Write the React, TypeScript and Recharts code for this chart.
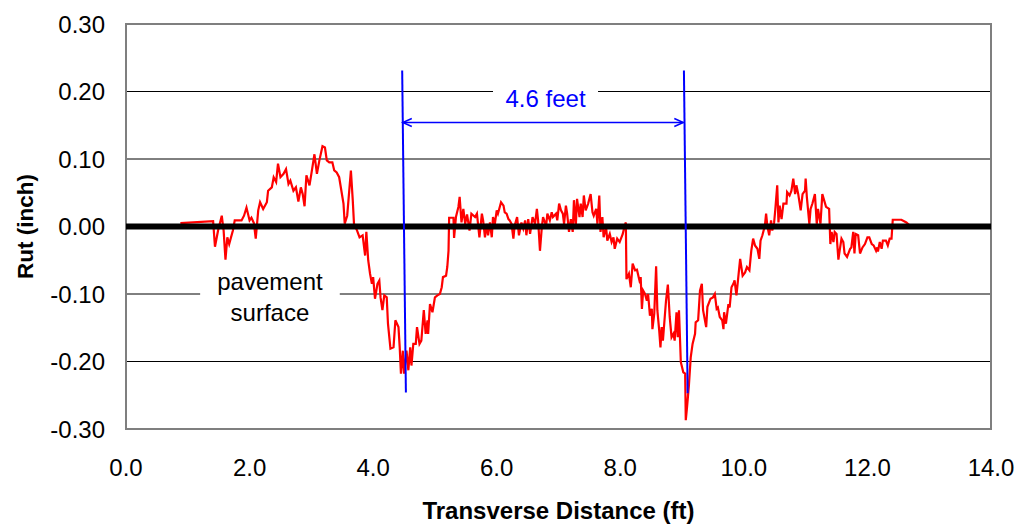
import { LineChart, Line, XAxis, YAxis, CartesianGrid, ReferenceLine, ReferenceArea } from 'recharts';

const FONT = '"Liberation Sans", Arial, Helvetica, sans-serif';

// transverse profile, distance in ft
const distanceFt = [
  0.88, 1.41, 1.44, 1.49, 1.55, 1.58, 1.61, 1.64, 1.67, 1.73, 1.76, 1.87, 1.91, 1.95, 2.0, 2.03, 2.07, 2.1,
  2.14, 2.17, 2.22, 2.28, 2.3, 2.36, 2.39, 2.43, 2.46, 2.5, 2.55, 2.59, 2.63, 2.66, 2.71, 2.75, 2.79, 2.83,
  2.86, 2.89, 2.92, 2.97, 3.0, 3.05, 3.09, 3.13, 3.18, 3.22, 3.25, 3.29, 3.34, 3.37, 3.41, 3.45, 3.52, 3.54,
  3.58, 3.64, 3.67, 3.69, 3.74, 3.78, 3.83, 3.87, 3.89, 3.92, 3.95, 3.98, 4.0, 4.03, 4.07, 4.1, 4.12, 4.15,
  4.18, 4.22, 4.24, 4.28, 4.33, 4.36, 4.41, 4.43, 4.45, 4.48, 4.5, 4.54, 4.57, 4.6, 4.62, 4.65, 4.69, 4.71,
  4.75, 4.78, 4.82, 4.85, 4.88, 4.89, 4.92, 4.96, 5.0, 5.04, 5.08, 5.11, 5.13, 5.18, 5.2, 5.22, 5.23, 5.3,
  5.31, 5.34, 5.38, 5.4, 5.43, 5.46, 5.49, 5.52, 5.56, 5.59, 5.65, 5.68, 5.72, 5.76, 5.78, 5.81, 5.84, 5.86,
  5.89, 5.92, 5.94, 5.97, 6.0, 6.02, 6.07, 6.11, 6.13, 6.16, 6.19, 6.21, 6.24, 6.27, 6.29, 6.33, 6.36, 6.4,
  6.43, 6.46, 6.48, 6.51, 6.54, 6.58, 6.62, 6.65, 6.67, 6.7, 6.73, 6.75, 6.8, 6.82, 6.86, 6.89, 6.91, 6.96,
  6.98, 7.01, 7.04, 7.07, 7.09, 7.12, 7.14, 7.17, 7.2, 7.23, 7.25, 7.28, 7.3, 7.34, 7.36, 7.39, 7.41, 7.44,
  7.48, 7.52, 7.55, 7.57, 7.61, 7.63, 7.66, 7.68, 7.71, 7.73, 7.77, 7.79, 7.83, 7.86, 7.89, 7.91, 7.95, 7.99,
  8.04, 8.07, 8.09, 8.1, 8.14, 8.17, 8.2, 8.24, 8.27, 8.31, 8.33, 8.35, 8.37, 8.4, 8.43, 8.45, 8.48, 8.51,
  8.52, 8.55, 8.58, 8.6, 8.63, 8.65, 8.67, 8.69, 8.74, 8.77, 8.8, 8.83, 8.86, 8.88, 8.91, 8.93, 8.95, 8.98,
  9.02, 9.05, 9.06, 9.08, 9.11, 9.14, 9.17, 9.21, 9.22, 9.26, 9.29, 9.32, 9.34, 9.39, 9.41, 9.46, 9.5, 9.53,
  9.56, 9.58, 9.61, 9.65, 9.67, 9.68, 9.71, 9.75, 9.77, 9.8, 9.83, 9.85, 9.88, 9.91, 9.94, 9.98, 10.02, 10.05,
  10.09, 10.12, 10.15, 10.18, 10.22, 10.25, 10.27, 10.3, 10.34, 10.36, 10.38, 10.41, 10.44, 10.46, 10.49,
  10.51, 10.54, 10.56, 10.58, 10.61, 10.64, 10.69, 10.7, 10.74, 10.77, 10.8, 10.83, 10.85, 10.88, 10.92,
  10.95, 10.99, 11.0, 11.02, 11.06, 11.08, 11.11, 11.15, 11.18, 11.2, 11.24, 11.27, 11.33, 11.38, 11.4,
  11.42, 11.45, 11.47, 11.5, 11.53, 11.55, 11.58, 11.61, 11.63, 11.67, 11.72, 11.74, 11.77, 11.79, 11.81,
  11.85, 11.88, 11.92, 11.96, 12.0, 12.03, 12.07, 12.1, 12.14, 12.16, 12.17, 12.2, 12.23, 12.25, 12.3,
  12.33, 12.36, 12.39, 12.41, 12.55, 12.63, 12.69,
];

// rut depth in inch, same order as distanceFt
const rutInch = [
  0.005, 0.008, -0.03, -0.006, 0.016, -0.006, -0.049, -0.016, -0.026, -0.006, 0.009, 0.009, 0.016, 0.028,
  0.009, 0.013, 0.005, -0.018, 0.024, 0.036, 0.026, 0.036, 0.053, 0.058, 0.073, 0.066, 0.093, 0.073, 0.078,
  0.085, 0.063, 0.068, 0.053, 0.058, 0.037, 0.058, 0.048, 0.03, 0.076, 0.061, 0.078, 0.107, 0.078, 0.098,
  0.119, 0.117, 0.098, 0.095, 0.095, 0.083, 0.08, 0.073, 0.034, 0.004, 0.016, 0.083, 0.039, 0.004, -0.006,
  -0.016, -0.013, -0.043, -0.008, -0.05, -0.07, -0.085, -0.075, -0.107, -0.085, -0.08, -0.105, -0.124,
  -0.102, -0.105, -0.144, -0.181, -0.179, -0.139, -0.149, -0.179, -0.218, -0.184, -0.218, -0.184, -0.213,
  -0.179, -0.206, -0.174, -0.174, -0.149, -0.174, -0.169, -0.124, -0.159, -0.139, -0.159, -0.115, -0.127,
  -0.105, -0.102, -0.1, -0.09, -0.075, -0.073, -0.06, -0.036, 0.013, 0.013, -0.017, 0.014, 0.029, 0.044,
  0.006, 0.026, 0.004, 0.018, -0.006, 0.019, 0.014, 0.019, -0.016, 0.019, 0.009, -0.016, 0.004, -0.013,
  0.006, -0.016, 0.014, 0.004, 0.024, 0.019, 0.036, 0.031, 0.021, 0.019, 0.011, 0.009, 0.004, -0.018,
  0.001, 0.014, -0.013, 0.006, -0.003, 0.009, -0.013, 0.011, -0.011, 0.014, 0.004, 0.026, 0.009, -0.036,
  -0.001, 0.014, 0.001, 0.019, 0.009, 0.021, 0.014, 0.019, 0.009, 0.034, 0.024, 0.019, 0.004, 0.031,
  0.019, -0.008, 0.011, -0.008, 0.039, 0.001, 0.041, 0.014, 0.034, 0.014, 0.046, 0.024, 0.034, 0.048,
  0.021, 0.016, 0.026, 0.004, 0.046, -0.008, 0.014, -0.016, -0.001, -0.021, -0.011, -0.023, -0.016,
  -0.033, -0.018, -0.023, -0.011, 0.001, 0.006, -0.078, -0.07, -0.09, -0.055, -0.065, -0.064, -0.08,
  -0.075, -0.122, -0.095, -0.1, -0.11, -0.1, -0.132, -0.122, -0.152, -0.129, -0.059, -0.124, -0.154,
  -0.179, -0.149, -0.169, -0.11, -0.086, -0.134, -0.164, -0.159, -0.169, -0.127, -0.164, -0.124, -0.201,
  -0.216, -0.218, -0.287, -0.268, -0.236, -0.194, -0.174, -0.159, -0.142, -0.139, -0.095, -0.085, -0.124,
  -0.149, -0.119, -0.107, -0.105, -0.1, -0.122, -0.12, -0.134, -0.139, -0.152, -0.127, -0.144, -0.115,
  -0.12, -0.09, -0.085, -0.08, -0.102, -0.075, -0.048, -0.073, -0.068, -0.06, -0.065, -0.036, -0.018,
  -0.028, -0.033, -0.048, -0.021, -0.013, 0.001, 0.019, 0.001, -0.013, 0.009, -0.006, 0.006, 0.026, 0.061,
  0.006, 0.031, 0.011, 0.034, 0.034, 0.051, 0.046, 0.053, 0.071, 0.048, 0.061, 0.048, 0.024, 0.048, 0.053,
  0.071, 0.043, 0.004, 0.026, 0.034, 0.048, 0.004, 0.026, 0.004, 0.048, 0.029, 0.026, -0.026, -0.008,
  -0.023, -0.008, -0.011, -0.049, -0.036, -0.018, -0.023, -0.04, -0.045, -0.033, -0.031, -0.008, -0.04,
  -0.011, -0.013, -0.04, -0.031, -0.026, -0.016, -0.016, -0.026, -0.028, -0.036, -0.031, -0.037, -0.023,
  -0.033, -0.021, -0.021, -0.028, -0.018, -0.018, 0.01, 0.01, 0.006, 0.001,
];

const xTicks = [0, 2, 4, 6, 8, 10, 12, 14];
const yTicks = [-0.3, -0.2, -0.1, 0, 0.1, 0.2, 0.3];

// wheel path edges (ft, inch) and the 4.6 ft dimension
const leftEdge = [{ x: 4.47, y: 0.231 }, { x: 4.53, y: -0.246 }];
const rightEdge = [{ x: 9.03, y: 0.231 }, { x: 9.09, y: -0.247 }];
const spacing = [{ x: 4.48, y: 0.154 }, { x: 9.02, y: 0.154 }];
const feetGap = [{ x: 5.94, y: 0.2 }, { x: 7.64, y: 0.2 }];
const surfaceGap = [{ x: 1.2, y: -0.1 }, { x: 3.46, y: -0.1 }];

const data = distanceFt.map((x, i) => ({ x, rut: rutInch[i] }));

const EdgeLine = ({ x1, y1, x2, y2 }: any) => (
  <line x1={x1} y1={y1} x2={x2} y2={y2} stroke="#0000ff" strokeWidth={2} />
);

const DimensionArrow = ({ x1, y1, x2, y2 }: any) => (
  <g stroke="#0000ff" strokeWidth={1.5} fill="none">
    <line x1={x1} y1={y1} x2={x2} y2={y2} />
    <polyline points={`${x1 + 9},${y1 - 4} ${x1},${y1} ${x1 + 9},${y1 + 4}`} />
    <polyline points={`${x2 - 9},${y2 - 4} ${x2},${y2} ${x2 - 9},${y2 + 4}`} />
  </g>
);

const FeetLabel = ({ x1, y1, x2, y2 }: any) => (
  <g>
    <line x1={x1} y1={y1} x2={x2} y2={y2} stroke="#fff" strokeWidth={4} />
    <text x={(x1 + x2) / 2} y={y1 + 15} textAnchor="middle" fill="#0000ff" fontSize={24} fontFamily={FONT}>
      4.6 feet
    </text>
  </g>
);

const SurfaceLabel = ({ x1, y1, x2, y2 }: any) => (
  <g>
    <line x1={x1} y1={y1} x2={x2} y2={y2} stroke="#fff" strokeWidth={4} />
    <text x={(x1 + x2) / 2} y={y1 - 4} textAnchor="middle" fill="#000" fontSize={24} fontFamily={FONT}>
      pavement
    </text>
    <text x={(x1 + x2) / 2} y={y1 + 27} textAnchor="middle" fill="#000" fontSize={24} fontFamily={FONT}>
      surface
    </text>
  </g>
);

const XTitle = (props: any) => {
  const vb = props.viewBox || { x: 126, y: 429, width: 865, height: 96 };
  return (
    <text x={vb.x + vb.width / 2} y={vb.y + 90} textAnchor="middle" fontSize={24} fontWeight="bold" fontFamily={FONT} fill="#000">
      Transverse Distance (ft)
    </text>
  );
};

const YTitle = (props: any) => {
  const vb = props.viewBox || { x: 0, y: 24, width: 126, height: 405 };
  const cx = vb.x + 33;
  const cy = vb.y + vb.height / 2;
  return (
    <text x={cx} y={cy} transform={`rotate(-90, ${cx}, ${cy})`} textAnchor="middle" fontSize={22.5} fontWeight="bold" fontFamily={FONT} fill="#000">
      Rut (inch)
    </text>
  );
};

export default function App() {
  return (
    <div style={{ position: 'absolute', left: 0, top: 0, width: 1016, height: 525, background: '#fff' }}>
      <LineChart width={1016} height={525} data={data} margin={{ top: 24, right: 25, bottom: 0, left: 0 }}>
        <CartesianGrid vertical={false} stroke="#000" strokeWidth={1} />
        <XAxis
          type="number"
          dataKey="x"
          domain={[0, 14]}
          ticks={xTicks}
          tickFormatter={(v: number) => v.toFixed(1)}
          height={96}
          axisLine={false}
          tickLine={false}
          tickSize={0}
          tickMargin={30}
          tick={{ fill: '#000', fontSize: 24, fontFamily: FONT }}
          label={XTitle}
        />
        <YAxis
          type="number"
          domain={[-0.3, 0.3]}
          ticks={yTicks}
          tickFormatter={(v: number) => v.toFixed(2)}
          width={126}
          axisLine={false}
          tickLine={false}
          tickSize={0}
          tickMargin={21}
          tick={{ fill: '#000', fontSize: 24, fontFamily: FONT }}
          label={YTitle}
        />
        <ReferenceArea x1={0} x2={14} y1={-0.3} y2={0.3} fill="none" stroke="#7f7f7f" strokeWidth={2} ifOverflow="visible" />
        <ReferenceLine segment={feetGap} shape={FeetLabel} ifOverflow="visible" />
        <ReferenceLine segment={surfaceGap} shape={SurfaceLabel} ifOverflow="visible" />
        <Line type="linear" dataKey="rut" stroke="#ff0000" strokeWidth={2.2} dot={false} isAnimationActive={false} />
        <ReferenceLine y={0} stroke="#000" strokeWidth={6} />
        <ReferenceLine segment={leftEdge} shape={EdgeLine} ifOverflow="visible" />
        <ReferenceLine segment={rightEdge} shape={EdgeLine} ifOverflow="visible" />
        <ReferenceLine segment={spacing} shape={DimensionArrow} ifOverflow="visible" />
      </LineChart>
    </div>
  );
}
